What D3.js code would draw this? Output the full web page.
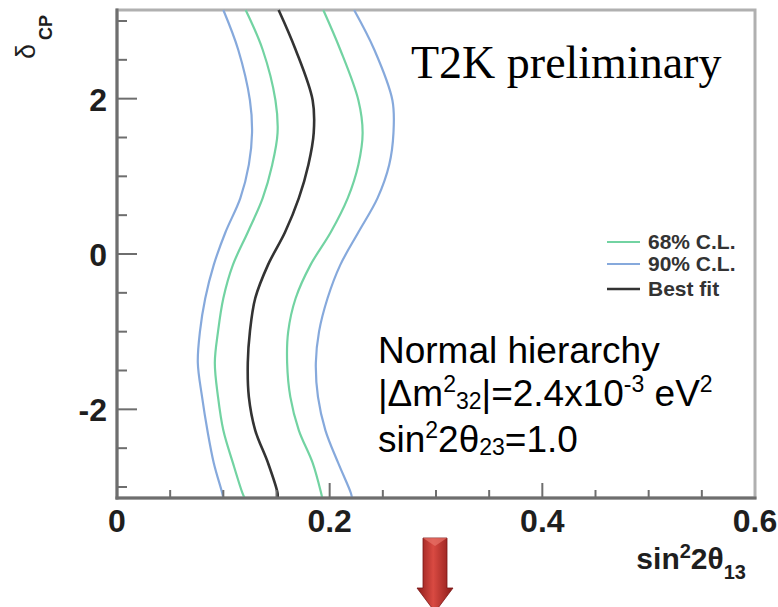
<!DOCTYPE html>
<html>
<head>
<meta charset="utf-8">
<script src="https://cdn.jsdelivr.net/npm/d3@7"></script>
<style>
  body { margin: 0; background: #fff; }
  svg { display: block; }
</style>
</head>
<body>
<svg></svg>
<script>
const width = 778;
const height = 607;

// delta_CP sample points and sin^2 2theta13 on each contour
const deltaCP   = [3.1416, 2.63, 1.98, 1.56, 1.15, 0.72, 0.28, -0.14, -0.57, -1.00, -1.40, -1.84, -2.27, -2.69, -3.08, -3.1416];
const blueLeft  = [0.100, 0.114, 0.125, 0.127, 0.124, 0.116, 0.102, 0.091, 0.083, 0.078, 0.076, 0.080, 0.085, 0.091, 0.099, 0.100];
const greenLeft = [0.121, 0.137, 0.149, 0.151, 0.146, 0.137, 0.123, 0.109, 0.100, 0.095, 0.092, 0.095, 0.100, 0.109, 0.118, 0.120];
const bestFit   = [0.152, 0.168, 0.184, 0.185, 0.180, 0.171, 0.158, 0.142, 0.130, 0.125, 0.123, 0.124, 0.130, 0.142, 0.151, 0.151];
const greenRight= [0.194, 0.210, 0.227, 0.231, 0.227, 0.217, 0.201, 0.182, 0.168, 0.161, 0.160, 0.163, 0.171, 0.184, 0.192, 0.193];
const blueRight = [0.223, 0.242, 0.259, 0.260, 0.256, 0.245, 0.227, 0.210, 0.198, 0.190, 0.187, 0.189, 0.196, 0.208, 0.220, 0.221];

const xTickLabels = [0, 0.2, 0.4, 0.6];
const yTickLabels = [-2, 0, 2];
const legendLabels = ['68% C.L.', '90% C.L.', 'Best fit'];

const green = '#72d3a2';
const blue = '#86a9dc';
const black = '#333333';

const svg = d3.select('svg').attr('width', width).attr('height', height);

const margin = { top: 10, left: 117, right: 23, bottom: 109 };
const innerW = width - margin.left - margin.right;
const innerH = height - margin.top - margin.bottom;

const x = d3.scaleLinear().domain([0, 0.6]).range([margin.left, margin.left + innerW]);
const y = d3.scaleLinear().domain([-Math.PI, Math.PI]).range([margin.top + innerH, margin.top]);

// frame
svg.append('rect')
  .attr('x', x(0)).attr('y', y(Math.PI))
  .attr('width', innerW).attr('height', innerH)
  .attr('fill', 'none').attr('stroke', '#b0b0b0').attr('stroke-width', 3);

// contours
const line = d3.line()
  .x(d => x(d[0]))
  .y(d => y(d[1]))
  .curve(d3.curveCatmullRom);

const series = [
  { v: blueLeft, c: blue, w: 2.2 },
  { v: greenLeft, c: green, w: 2.2 },
  { v: greenRight, c: green, w: 2.2 },
  { v: blueRight, c: blue, w: 2.2 },
  { v: bestFit, c: black, w: 2.6 }
];
series.forEach(s => {
  svg.append('path')
    .attr('d', line(deltaCP.map((dl, i) => [s.v[i], dl])))
    .attr('fill', 'none')
    .attr('stroke', s.c)
    .attr('stroke-width', s.w);
});

// left and bottom axes
const axisColor = '#6e6e6e';
svg.append('line').attr('x1', x(0)).attr('x2', x(0)).attr('y1', y(Math.PI) - 1.5).attr('y2', y(-Math.PI) + 1.5)
  .attr('stroke', axisColor).attr('stroke-width', 3);
svg.append('line').attr('x1', x(0) - 1.5).attr('x2', x(0.6) + 1.5).attr('y1', y(-Math.PI)).attr('y2', y(-Math.PI))
  .attr('stroke', axisColor).attr('stroke-width', 3);

const yTicks = d3.range(-3, 3.01, 0.5);
svg.selectAll('.ytick').data(yTicks).enter().append('line')
  .attr('x1', x(0))
  .attr('x2', d => x(0) + (Math.abs(d % 2) < 1e-9 ? 20 : 10))
  .attr('y1', d => y(d)).attr('y2', d => y(d))
  .attr('stroke', axisColor).attr('stroke-width', 2);

const xTicks = d3.range(0.05, 0.56, 0.05);
svg.selectAll('.xtick').data(xTicks).enter().append('line')
  .attr('x1', d => x(d)).attr('x2', d => x(d))
  .attr('y1', y(-Math.PI))
  .attr('y2', d => y(-Math.PI) - (Math.abs(Math.round(d * 100) % 20) === 0 ? 15 : 8))
  .attr('stroke', axisColor).attr('stroke-width', 2);

// tick labels
const tickFont = '"Liberation Sans", Arial, sans-serif';
svg.selectAll('.xlab').data(xTickLabels).enter().append('text')
  .attr('x', d => x(d)).attr('y', 532)
  .attr('text-anchor', 'middle')
  .style('font-family', tickFont).style('font-weight', 'bold').style('font-size', '32px')
  .attr('fill', '#1e1e1e')
  .text(d => d);

svg.selectAll('.ylab').data(yTickLabels).enter().append('text')
  .attr('x', 107).attr('y', d => y(d) + 12)
  .attr('text-anchor', 'end')
  .style('font-family', tickFont).style('font-weight', 'bold').style('font-size', '32px')
  .attr('fill', '#1e1e1e')
  .text(d => d);

// x axis title
const xt = svg.append('text')
  .attr('x', 746).attr('y', 569)
  .attr('text-anchor', 'end')
  .style('font-family', tickFont).style('font-weight', 'bold').style('font-size', '30px')
  .attr('fill', '#1e1e1e');
xt.append('tspan').text('sin');
xt.append('tspan').attr('dy', -11).style('font-size', '20px').text('2');
xt.append('tspan').attr('dy', 11).text('2θ');
xt.append('tspan').attr('dy', 10).style('font-size', '20px').text('13');

// y axis title
const yt = svg.append('text')
  .attr('transform', 'translate(35,59) rotate(-90)')
  .style('font-family', tickFont).style('font-size', '27px')
  .attr('fill', '#1e1e1e');
yt.append('tspan').text('δ');
yt.append('tspan').attr('dx', 4).attr('dy', 17).style('font-weight', 'bold').style('font-size', '18px').text('CP');

// legend
const legColors = [green, blue, black];
const legY = [242, 264, 289];
legendLabels.forEach((lab, i) => {
  svg.append('line')
    .attr('x1', 607).attr('x2', 640).attr('y1', legY[i]).attr('y2', legY[i])
    .attr('stroke', legColors[i]).attr('stroke-width', i === 2 ? 2.6 : 2.2);
  svg.append('text')
    .attr('x', 648).attr('y', legY[i] + 7)
    .style('font-family', tickFont).style('font-weight', 'bold').style('font-size', '21px')
    .attr('fill', '#333')
    .text(lab);
});

// T2K preliminary
svg.append('text')
  .attr('x', 411).attr('y', 78)
  .style('font-family', '"Liberation Serif", "Times New Roman", serif').style('font-size', '46px')
  .attr('fill', '#000')
  .text('T2K preliminary');

// annotation lines
const annFont = '"Liberation Sans", Arial, sans-serif';
function richText(yPos, parts) {
  const t = svg.append('text')
    .attr('x', 378).attr('y', yPos)
    .style('font-family', annFont).style('font-size', '37px').attr('fill', '#000');
  let cur = 0;
  parts.forEach(p => {
    const shift = p.shift || 0;
    const ts = t.append('tspan').attr('dy', shift - cur).text(p.t);
    if (p.small) ts.style('font-size', '23px');
    cur = shift;
  });
  return t;
}
richText(363, [{ t: 'Normal hierarchy' }]);
richText(406, [
  { t: '|Δm' }, { t: '2', small: true, shift: -14 }, { t: '32', small: true, shift: 3 },
  { t: '|=2.4x10' }, { t: '-3', small: true, shift: -14 }, { t: ' eV' }, { t: '2', small: true, shift: -14 }
]);
richText(452, [
  { t: 'sin' }, { t: '2', small: true, shift: -14 }, { t: '2θ' }, { t: '23', small: true, shift: 3 }, { t: '=1.0' }
]);

// red arrow
const defs = svg.append('defs');
const grad = defs.append('linearGradient').attr('id', 'arrowGrad')
  .attr('x1', '0%').attr('x2', '100%').attr('y1', '0%').attr('y2', '0%');
grad.append('stop').attr('offset', '0%').attr('stop-color', '#8e1c1a');
grad.append('stop').attr('offset', '45%').attr('stop-color', '#d94a42');
grad.append('stop').attr('offset', '100%').attr('stop-color', '#8a1a18');
const ax = 435;
svg.append('path')
  .attr('d', `M${ax - 12},538 L${ax + 12},538 L${ax + 12},588 L${ax + 18},588 L${ax},612 L${ax - 18},588 L${ax - 12},588 Z`)
  .attr('fill', 'url(#arrowGrad)')
  .attr('stroke', '#7a1514').attr('stroke-width', 0.8);
svg.append('path')
  .attr('d', `M${ax - 12},538 L${ax + 12},538 L${ax},546 Z`)
  .attr('fill', '#e8746a').attr('opacity', 0.7);
</script>
</body>
</html>
